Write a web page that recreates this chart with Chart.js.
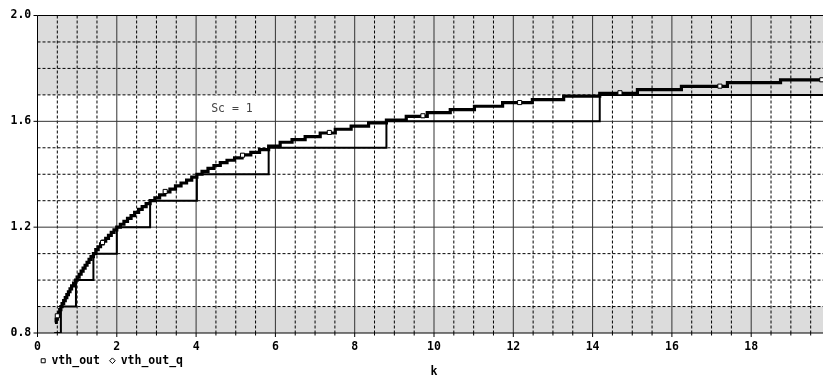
<!DOCTYPE html>
<html><head><meta charset="utf-8">
<script src="https://cdn.jsdelivr.net/npm/chart.js@4/dist/chart.umd.min.js"></script>
<style>
html,body{margin:0;padding:0;overflow:hidden;background:#fff;width:823px;height:377px}
#wrap{width:845px;height:377px}
</style></head>
<body><div id="wrap"><canvas id="c" width="845" height="377"></canvas></div>
<script>
// ---- data ----
const seriesNames = ['vth_out', 'vth_out_q'];

const outK = [0.44,0.47,0.50,0.53,0.56,0.59,
  0.62,0.66,0.70,0.74,0.78,0.82,0.86,0.91,0.96,
  1.00,1.05,1.10,1.15,1.20,1.25,1.30,1.35,1.41,
  1.47,1.53,1.59,1.65,1.72,1.79,1.86,1.93,2.00,
  2.09,2.18,2.27,2.36,2.45,2.55,2.64,2.74,2.84,
  2.96,3.08,3.21,3.34,3.48,3.62,3.76,3.89,4.02,
  4.15,4.30,4.45,4.61,4.78,4.97,5.16,5.38,5.60,5.83,
  6.12,6.42,6.75,7.13,7.51,7.91,8.35,8.80,9.30,9.83,10.41,11.02,11.73,12.48,13.27,14.18,15.13,16.24,17.40,18.74,20.00];
const outV = [0.840,0.852,0.864,0.876,0.888,0.900,
  0.911,0.922,0.934,0.945,0.956,0.967,0.978,0.989,1.000,
  1.011,1.022,1.034,1.045,1.056,1.067,1.078,1.089,1.100,
  1.115,1.126,1.137,1.147,1.158,1.169,1.180,1.190,1.200,
  1.211,1.222,1.233,1.244,1.256,1.267,1.278,1.289,1.300,
  1.311,1.322,1.333,1.344,1.356,1.367,1.378,1.389,1.400,
  1.411,1.422,1.433,1.444,1.453,1.462,1.473,1.483,1.493,1.506,
  1.521,1.531,1.542,1.556,1.570,1.582,1.594,1.605,1.619,1.633,1.644,1.657,1.671,1.682,1.695,1.706,1.720,1.732,1.746,1.757,1.757];

const qK = [0.42,0.59,0.97,1.41,2.00,2.84,4.02,5.83,8.80,14.18,20.00];
const qV = [0.80,0.90,1.00,1.10,1.20,1.30,1.40,1.50,1.60,1.70,1.70];

const markK = [0.50,1.64,3.22,5.17,7.36,9.72,12.16,14.69,17.21,19.78];
const markV = [0.865,1.142,1.335,1.472,1.558,1.621,1.671,1.708,1.733,1.757];

const yTickLabels = ['0.8','1.2','1.6','2.0'];
const shadedBands = [[0.8,0.9],[1.7,2.0]];
const noteText = 'Sc = 1';
const noteAt = [4.38, 1.648];
const noteCell = [[4, 6], [1.6, 1.7]];

// ---- drawing ----
const FONT = 'DejaVu Sans Mono';
const pts = (ks, vs) => ks.map((k,i) => ({x:k, y:vs[i]}));

const backdrop = {
  id: 'backdrop',
  beforeDatasetsDraw(chart) {
    const {ctx, chartArea:a, scales:{x, y}} = chart;
    const line = (x1,y1,x2,y2) => { ctx.beginPath(); ctx.moveTo(x1,y1); ctx.lineTo(x2,y2); ctx.stroke(); };
    ctx.save();
    ctx.fillStyle = '#dcdcdc';
    for (const [lo, hi] of shadedBands) {
      const y1 = y.getPixelForValue(hi), y2 = y.getPixelForValue(lo);
      ctx.fillRect(a.left, y1, a.right - a.left, y2 - y1);
    }
    ctx.lineWidth = 1;
    ctx.strokeStyle = '#000';
    ctx.setLineDash([3,2]);
    for (let i = 1; i < 40; i++) {
      if (i % 4 === 0) continue;
      const px = x.getPixelForValue(i * 0.5);
      line(px, a.top, px, a.bottom);
    }
    for (let i = 9; i < 20; i++) {
      if (i % 4 === 0) continue;
      const py = y.getPixelForValue(i / 10);
      line(a.left, py, a.right, py);
    }
    // white box behind the note
    {
      const x1 = x.getPixelForValue(noteCell[0][0]) + 1.5, x2 = x.getPixelForValue(noteCell[0][1]) - 1.5;
      const y1 = y.getPixelForValue(noteCell[1][1]) + 1, y2 = y.getPixelForValue(noteCell[1][0]) - 1;
      ctx.fillStyle = '#fff';
      ctx.fillRect(x1, y1, x2 - x1, y2 - y1);
    }
    ctx.setLineDash([]);
    ctx.strokeStyle = '#333';
    for (let i = 1; i < 10; i++) {
      const px = x.getPixelForValue(i * 2);
      line(px, a.top, px, a.bottom);
    }
    for (const v of [1.2, 1.6]) {
      const py = y.getPixelForValue(v);
      line(a.left, py, a.right, py);
    }
    ctx.strokeStyle = '#000';
    line(a.left, a.top, a.right, a.top);
    line(a.left, a.bottom, a.right, a.bottom);
    line(a.left, a.top, a.left, a.bottom);
    // tick marks
    for (let i = 0; i <= 40; i++) {
      const px = x.getPixelForValue(i * 0.5);
      line(px, a.bottom, px, a.bottom + (i % 4 === 0 ? 4 : 2.5));
    }
    for (const t of yTickLabels) {
      const py = y.getPixelForValue(parseFloat(t));
      line(a.left - 4, py, a.left, py);
    }
    // note
    ctx.fillStyle = '#444';
    ctx.font = '11.5px "' + FONT + '"';
    ctx.textBaseline = 'middle';
    ctx.textAlign = 'left';
    ctx.fillText(noteText, x.getPixelForValue(noteAt[0]), y.getPixelForValue(noteAt[1]));
    ctx.restore();
  }
};

const tickFont = {family: FONT, weight: 'bold', size: 11.5};

new Chart(document.getElementById('c'), {
  type: 'line',
  data: {
    datasets: [
      {label: seriesNames[0], data: pts(outK, outV), stepped: 'before', borderColor: '#000',
       borderWidth: 3.2, pointRadius: 0, fill: false, pointStyle: 'rect', order: 2, borderJoinStyle: 'miter'},
      {label: seriesNames[1], data: pts(qK, qV), stepped: 'before', borderColor: '#000',
       borderWidth: 2, pointRadius: 0, fill: false, pointStyle: 'rectRot', order: 3, borderJoinStyle: 'miter'},
      {label: seriesNames[0] + ' markers', data: pts(markK, markV), showLine: false, pointStyle: 'rect',
       pointRadius: 2.9, pointBackgroundColor: '#fff', pointBorderColor: '#000', pointBorderWidth: 1, order: 1}
    ]
  },
  options: {
    responsive: false, animation: false, devicePixelRatio: 1,
    layout: {padding: {left: 30.7, right: 14.5, top: 15.5, bottom: 0}},
    plugins: {
      tooltip: {enabled: false},
      legend: {
        position: 'bottom', align: 'start', fullSize: true,
        labels: {
          usePointStyle: true, boxWidth: 5, boxHeight: 4, padding: 10, color: '#000', font: tickFont,
          generateLabels: () => [
            {text: seriesNames[0], pointStyle: 'rect', fillStyle: '#fff', strokeStyle: '#000', lineWidth: 1, fontColor: '#000', datasetIndex: 0},
            {text: seriesNames[1], pointStyle: 'rectRot', fillStyle: '#fff', strokeStyle: '#000', lineWidth: 1, fontColor: '#000', datasetIndex: 1}
          ]
        }
      }
    },
    scales: {
      x: {
        type: 'linear', min: 0, max: 20, position: 'bottom',
        ticks: {stepSize: 2, autoSkip: false, maxRotation: 0, mirror: true, padding: -20.5, color: '#000', font: tickFont},
        grid: {display: false, drawTicks: false}, border: {display: false},
        afterFit(s) { s.height = 12; }
      },
      xk: {
        type: 'linear', min: 0, max: 20, position: 'bottom', weight: 2000,
        ticks: {display: false}, grid: {display: false, drawTicks: false}, border: {display: false},
        title: {display: true, text: 'k', padding: 0, color: '#000', font: {family: FONT, weight: 'bold', size: 11.5, lineHeight: 0.8}},
        afterFit(s) { s.height = 0.5; }
      },
      y: {
        type: 'linear', min: 0.8, max: 2.0,
        ticks: {stepSize: 0.4, mirror: true, padding: -27, color: '#000', font: tickFont,
          callback: (v) => yTickLabels.find(t => Math.abs(parseFloat(t) - v) < 1e-6) || ''},
        grid: {display: false, drawTicks: false}, border: {display: false},
        afterFit(s) { s.width = 6.8; }
      }
    }
  },
  plugins: [backdrop]
});
</script>
</body></html>
